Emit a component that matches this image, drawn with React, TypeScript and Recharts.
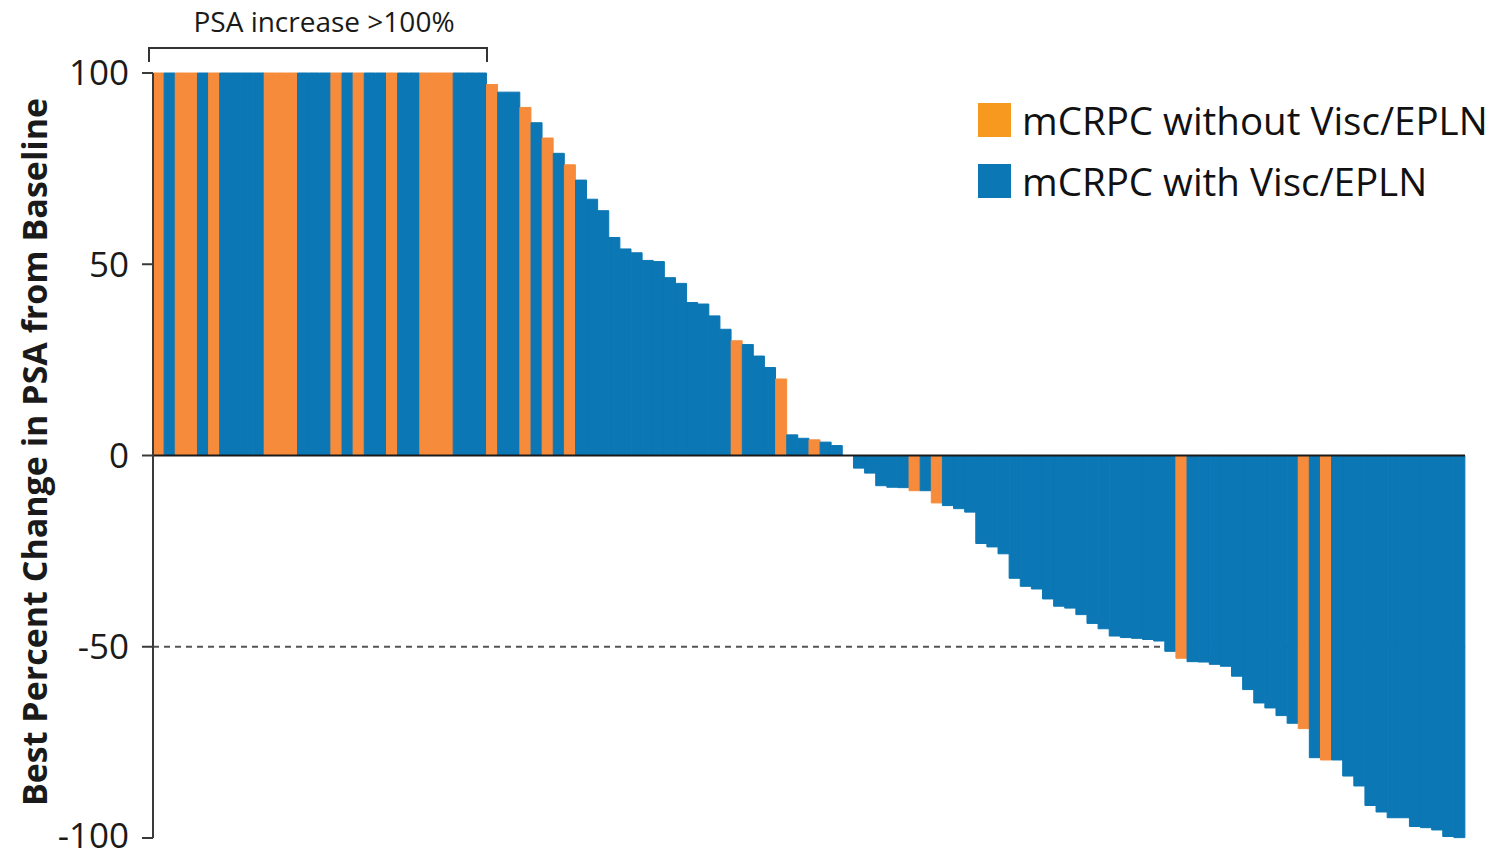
import { Bar, BarChart, Cell, ReferenceLine, XAxis, YAxis } from 'recharts'

// Best % change in PSA per patient, sorted high to low (values above 100 are capped at 100)
const PSA_CHANGE: number[] = [
  // capped at +100
  100, 100, 100, 100, 100, 100, 100, 100, 100, 100,
  100, 100, 100, 100, 100, 100, 100, 100, 100, 100,
  100, 100, 100, 100, 100, 100, 100, 100, 100, 100,
  // rising
  97, 95, 95, 91, 87, 83, 79, 76, 72, 67,
  64, 57, 54, 53, 51, 50.7, 46.5, 45, 40, 39.6,
  36.5, 33, 30, 29, 26, 23, 20, 5.4, 4.5, 4.1,
  3.5, 2.6, 0,
  // falling
  -3.3, -4.6, -7.9, -8.3, -8.4, -9.2, -9.2, -12.4, -13.1, -13.9,
  -14.8, -23, -23.9, -25.7, -32.1, -34.2, -34.9, -37.5, -39.4, -39.9,
  -41.6, -43.9, -45.3, -47.2, -47.6, -47.8, -48.1, -48.5, -51.2, -53,
  -53.9, -54, -54.6, -55.1, -57.7, -61.2, -64.7, -66, -68, -70,
  -71.4, -79, -79.6, -79.6, -83.8, -86.4, -91.5, -93.2, -94.7, -94.7,
  -97, -97.3, -97.9, -99.6, -99.9,
]

// 1 = mCRPC with visceral / extrapelvic lymph node disease, 0 = without
const WITH_VISC: number[] = [
  0, 1, 0, 0, 1, 0, 1, 1, 1, 1,
  0, 0, 0, 1, 1, 1, 0, 1, 0, 1,
  1, 0, 1, 1, 0, 0, 0, 1, 1, 1,
  0, 1, 1, 0, 1, 0, 1, 0, 1, 1,
  1, 1, 1, 1, 1, 1, 1, 1, 1, 1,
  1, 1, 0, 1, 1, 1, 0, 1, 1, 0,
  1, 1, 1,
  1, 1, 1, 1, 1, 0, 1, 0, 1, 1,
  1, 1, 1, 1, 1, 1, 1, 1, 1, 1,
  1, 1, 1, 1, 1, 1, 1, 1, 1, 0,
  1, 1, 1, 1, 1, 1, 1, 1, 1, 1,
  0, 1, 0, 1, 1, 1, 1, 1, 1, 1,
  1, 1, 1, 1, 1,
]

const Y_TICKS = [100, 50, 0, -50, -100]

const GROUPS = [
  { label: 'mCRPC without Visc/EPLN', bar: '#f68b3b', swatch: '#f7981f' },
  { label: 'mCRPC with Visc/EPLN', bar: '#0b77b4', swatch: '#0b77b4' },
]

const FONT = '"Open Sans", "Liberation Sans", Arial, sans-serif'
const AXIS_COLOR = '#3a3a3a'

const data = PSA_CHANGE.map((change, i) => ({ patient: i + 1, change, visc: WITH_VISC[i] }))

function GroupLegend() {
  return (
    <div style={{ position: 'absolute', left: 978, top: 89, fontFamily: FONT }}>
      {GROUPS.map((g) => (
        <div key={g.label} style={{ display: 'flex', alignItems: 'center', height: 61 }}>
          <span style={{ width: 33, height: 34, background: g.swatch, marginRight: 11 }} />
          <span style={{ fontSize: 38.5, color: '#111', whiteSpace: 'nowrap' }}>{g.label}</span>
        </div>
      ))}
    </div>
  )
}

export default function App() {
  return (
    <div style={{ position: 'absolute', left: 0, top: 0, width: 1498, height: 856, background: '#fff' }}>
      <BarChart
        width={1498}
        height={856}
        data={data}
        margin={{ top: 73, right: 33, bottom: 18, left: 0 }}
        barCategoryGap={0}
        barGap={0}
      >
        <XAxis dataKey="patient" hide />
        <YAxis
          domain={[-100, 100]}
          ticks={Y_TICKS}
          width={153}
          tickSize={11}
          tickMargin={13}
          axisLine={{ stroke: AXIS_COLOR, strokeWidth: 2 }}
          tickLine={{ stroke: AXIS_COLOR, strokeWidth: 2 }}
          tick={{ fill: '#1a1a1a', fontSize: 35, fontFamily: FONT }}
        />
        {/* 50% decline threshold, kept under the bars */}
        <ReferenceLine y={-50} stroke="#555" strokeWidth={2} strokeDasharray="6 5" zIndex={250} />
        <Bar dataKey="change" isAnimationActive={false}>
          {data.map((d) => (
            <Cell
              key={d.patient}
              fill={GROUPS[d.visc].bar}
              stroke={GROUPS[d.visc].bar}
              strokeWidth={1}
            />
          ))}
        </Bar>
        <ReferenceLine y={0} stroke="#1a1a1a" strokeWidth={2} />
      </BarChart>

      <GroupLegend />

      {/* axis title and the bracket over the capped bars */}
      <svg
        width={1498}
        height={856}
        style={{ position: 'absolute', left: 0, top: 0, pointerEvents: 'none' }}
      >
        <text
          transform="translate(47 452) rotate(-90)"
          textAnchor="middle"
          fontFamily={FONT}
          fontWeight={700}
          fontSize={34}
          fill="#1a1a1a"
        >
          Best Percent Change in PSA from Baseline
        </text>
        <text x={324} y={32} textAnchor="middle" fontFamily={FONT} fontSize={28} fill="#1a1a1a">
          PSA increase &gt;100%
        </text>
        <path d="M149 62 V48 H487 V62" fill="none" stroke="#333" strokeWidth={2} />
      </svg>
    </div>
  )
}
